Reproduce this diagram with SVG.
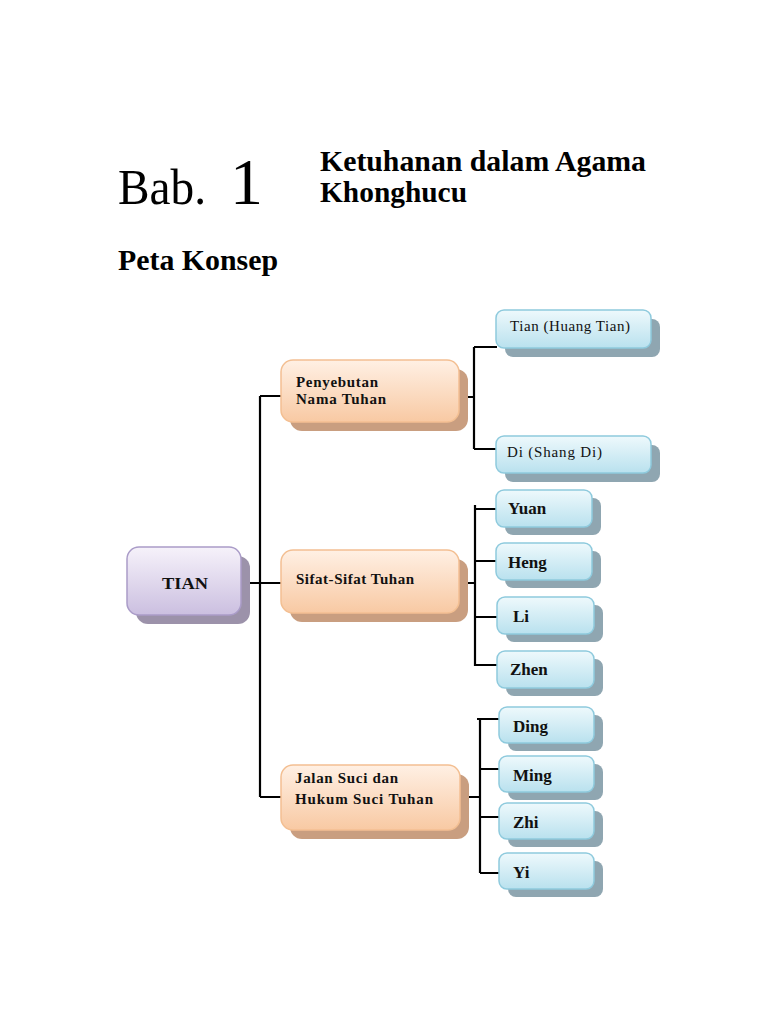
<svg xmlns="http://www.w3.org/2000/svg" width="768" height="1024" viewBox="0 0 768 1024">
<defs>
<linearGradient id="gP" x1="0" y1="0" x2="0" y2="1"><stop offset="0" stop-color="#f6f2fa"/><stop offset="1" stop-color="#cbbfe0"/></linearGradient>
<linearGradient id="gO" x1="0" y1="0" x2="0" y2="1"><stop offset="0" stop-color="#fff0e4"/><stop offset="1" stop-color="#f8c9a3"/></linearGradient>
<linearGradient id="gB" x1="0" y1="0" x2="0" y2="1"><stop offset="0" stop-color="#eef9fc"/><stop offset="1" stop-color="#b9e1ee"/></linearGradient>
<style>
.sp{fill:#9c92aa}.so{fill:#c99e80}.sb{fill:#8fa6b1}
.bp{fill:url(#gP);stroke:#aa9cc8;stroke-width:1.5}
.bo{fill:url(#gO);stroke:#f3bf92;stroke-width:1.5}
.bb{fill:url(#gB);stroke:#8ecadd;stroke-width:1.5}
.ln{fill:none;stroke:#000;stroke-width:2.2}
.t{font-family:"Liberation Serif","Times New Roman",serif;fill:#000}
.nb{font-family:"Liberation Serif","Times New Roman",serif;font-weight:bold;font-size:15px;fill:#111}
.nn{font-family:"Liberation Serif","Times New Roman",serif;font-size:15px;fill:#111}
.lb{font-family:"Liberation Serif","Times New Roman",serif;font-weight:bold;font-size:17px;fill:#111}
</style>
</defs>
<rect width="768" height="1024" fill="#fff"/>
<text class="t" x="118" y="204" font-size="50" textLength="88" lengthAdjust="spacingAndGlyphs">Bab.</text>
<text class="t" x="230" y="204" font-size="66">1</text>
<text class="t" x="320" y="171" font-size="29" font-weight="bold" textLength="326" lengthAdjust="spacingAndGlyphs">Ketuhanan dalam Agama</text>
<text class="t" x="320" y="202" font-size="29" font-weight="bold" textLength="147" lengthAdjust="spacingAndGlyphs">Khonghucu</text>
<text class="t" x="118" y="270" font-size="29" font-weight="bold" textLength="160" lengthAdjust="spacingAndGlyphs">Peta Konsep</text>

<g id="connectors">
<path class="ln" d="M241 583 H282"/>
<path class="ln" d="M260 396 V797 M260 396 H282 M260 797 H282"/>
<path class="ln" d="M459 397 H474 M474 347 V449 M474 347 H497 M474 449 H497"/>
<path class="ln" d="M459 583 H475 M475 505 V666 M475 509 H497 M475 561 H497 M475 617 H497 M475 665 H497"/>
<path class="ln" d="M459 797 H480 M480 719 V873 M477 719 H499 M480 769 H499 M480 817 H499 M480 873 H499"/>
</g>

<g id="tian"><rect class="sp" x="136" y="556" width="114" height="68" rx="12"/><rect class="bp" x="127" y="547" width="114" height="68" rx="12"/><text class="lb" x="162" y="589" textLength="46" lengthAdjust="spacingAndGlyphs">TIAN</text></g>

<g id="penyebutan"><rect class="so" x="290" y="369" width="178" height="62" rx="12"/><rect class="bo" x="281" y="360" width="178" height="62" rx="12"/><text class="nb" x="296" y="387" textLength="82">Penyebutan</text><text class="nb" x="296" y="404" textLength="90">Nama Tuhan</text></g>
<g id="sifat"><rect class="so" x="290" y="559" width="178" height="63" rx="12"/><rect class="bo" x="281" y="550" width="178" height="63" rx="12"/><text class="nb" x="296" y="584" textLength="118">Sifat-Sifat Tuhan</text></g>
<g id="jalan"><rect class="so" x="290" y="774" width="179" height="65" rx="12"/><rect class="bo" x="281" y="765" width="179" height="65" rx="12"/><text class="nb" x="295" y="783" textLength="103">Jalan Suci dan</text><text class="nb" x="295" y="804" textLength="138">Hukum Suci Tuhan</text></g>

<g id="huang-tian"><rect class="sb" x="505" y="319" width="155" height="38" rx="8"/><rect class="bb" x="496" y="310" width="155" height="38" rx="8"/><text class="nn" x="510" y="331" textLength="120">Tian (Huang Tian)</text></g>
<g id="shang-di"><rect class="sb" x="505" y="445" width="155" height="37" rx="8"/><rect class="bb" x="496" y="436" width="155" height="37" rx="8"/><text class="nn" x="507" y="457" textLength="95">Di (Shang Di)</text></g>

<g id="yuan"><rect class="sb" x="505" y="498" width="96" height="37" rx="8"/><rect class="bb" x="496" y="490" width="96" height="37" rx="8"/><text class="lb" x="508" y="514">Yuan</text></g>
<g id="heng"><rect class="sb" x="505" y="551" width="96" height="37" rx="8"/><rect class="bb" x="496" y="543" width="96" height="37" rx="8"/><text class="lb" x="508" y="568">Heng</text></g>
<g id="li"><rect class="sb" x="506" y="605" width="97" height="37" rx="8"/><rect class="bb" x="497" y="597" width="97" height="37" rx="8"/><text class="lb" x="513" y="622">Li</text></g>
<g id="zhen"><rect class="sb" x="506" y="659" width="97" height="37" rx="8"/><rect class="bb" x="497" y="651" width="97" height="37" rx="8"/><text class="lb" x="510" y="675">Zhen</text></g>

<g id="ding"><rect class="sb" x="508" y="715" width="95" height="36" rx="8"/><rect class="bb" x="499" y="707" width="95" height="36" rx="8"/><text class="lb" x="513" y="732">Ding</text></g>
<g id="ming"><rect class="sb" x="508" y="764" width="95" height="36" rx="8"/><rect class="bb" x="499" y="756" width="95" height="36" rx="8"/><text class="lb" x="513" y="781">Ming</text></g>
<g id="zhi"><rect class="sb" x="508" y="811" width="95" height="36" rx="8"/><rect class="bb" x="499" y="803" width="95" height="36" rx="8"/><text class="lb" x="513" y="828">Zhi</text></g>
<g id="yi"><rect class="sb" x="508" y="861" width="95" height="36" rx="8"/><rect class="bb" x="499" y="853" width="95" height="36" rx="8"/><text class="lb" x="513" y="878">Yi</text></g>
</svg>
